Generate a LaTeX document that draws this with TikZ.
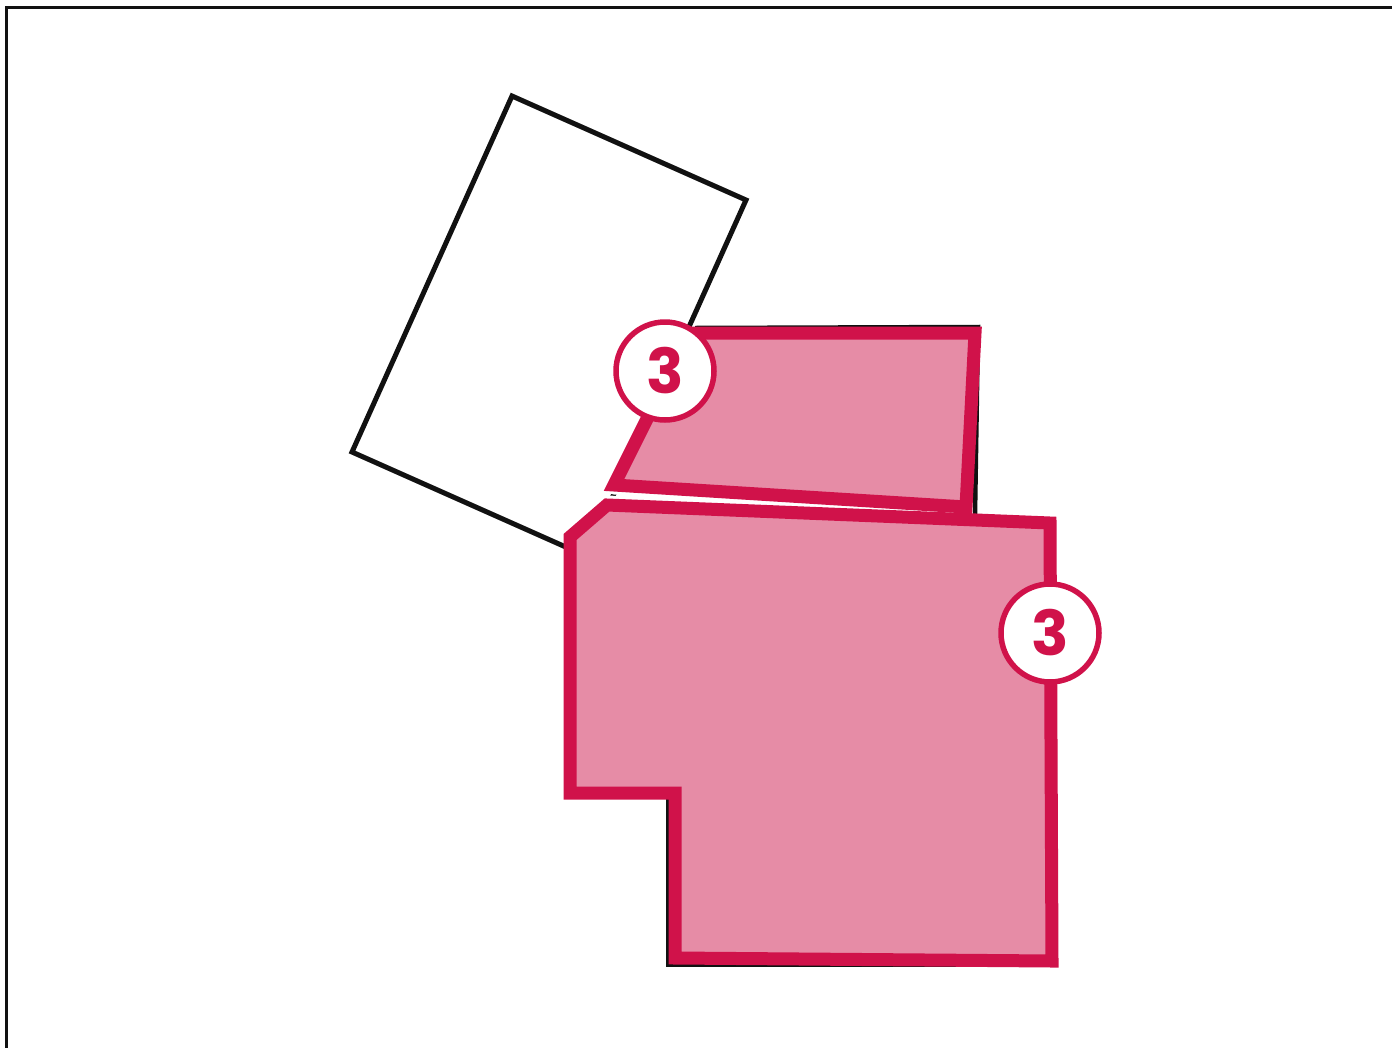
\documentclass[tikz,border=0pt]{standalone}
\usepackage{fontspec}
\setsansfont{Poppins}
\definecolor{pkink}{HTML}{111111}
\definecolor{pkline}{HTML}{D0124A}
\definecolor{pkfill}{HTML}{E68CA6}
\tikzset{
  pk frame/.style={draw=pkink, line width=3pt},
  pk plot/.style={draw=pkink, line width=5pt, fill=white},
  pk shadow/.style={draw=pkink, line width=4.5pt},
  pk halo/.style={draw=white, line width=19pt, line cap=round},
  pk parcel/.style={draw=pkline, line width=13pt, fill=pkfill},
  pk badge/.style={circle, draw=pkline, line width=5.5pt, fill=white, minimum size=98pt,
    inner sep=0pt, text=pkline, font=\sffamily\bfseries\fontsize{62}{62}\selectfont}
}

\begin{document}
\begin{tikzpicture}[x=1pt, y=-1pt]
  \useasboundingbox (0,0) rectangle (1392,1047);
  % page frame, only top and left edges show
  \draw[pk frame] (6.5,1050) -- (6.5,7.5) -- (1395,7.5);
  % tilted plot
  \draw[pk plot] (512,96) -- (746,200) -- (586,556) -- (352,452) -- cycle;
  % white gap round the parcels
  \draw[pk halo] (614,485) -- (966,507);
  \draw[pk halo] (580,528) -- (607,505) -- (1050,523);
  % black outlines under the parcels
  \draw[pk shadow] (695,328) -- (978,327) -- (975,515);
  \draw[pk shadow] (668,795) -- (668,965) -- (1052,965);
  % parcels
  \draw[pk parcel] (690,333) -- (975,333) -- (966,507) -- (614,485) -- cycle;
  \draw[pk parcel] (607,505) -- (1050,523) -- (1052,961) -- (675,958) -- (675,793)
    -- (570,793) -- (570,537) -- cycle;
  % badges
  \node[pk badge] (badgeA) at (665,371) {3};
  \node[pk badge] (badgeB) at (1050,633) {3};
\end{tikzpicture}
\end{document}
